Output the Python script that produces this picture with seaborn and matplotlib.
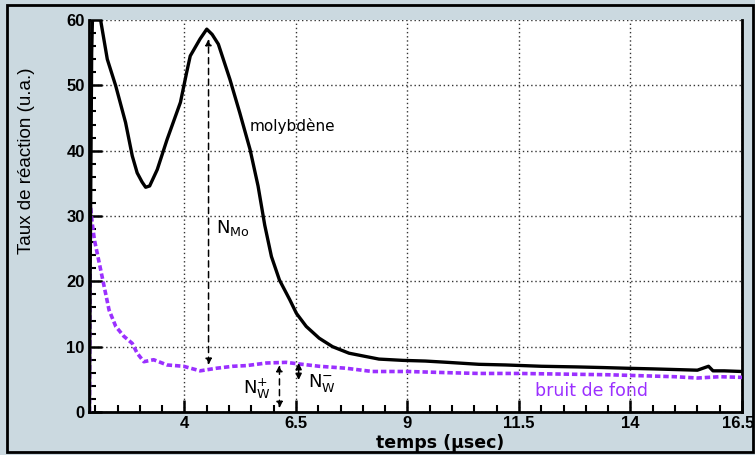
import numpy as np
import pandas as pd
import matplotlib
matplotlib.use("Agg")
import matplotlib.pyplot as plt
import matplotlib.transforms as mtransforms
from matplotlib.patches import Rectangle
import seaborn as sns

# Data

# molybdene signal (black)
mo_t = [1.87, 1.89, 1.92, 1.95, 2.05, 2.12, 2.27, 2.46, 2.68, 2.83, 2.94, 3.05,
        3.13, 3.22, 3.39, 3.61, 3.91, 4.05, 4.13, 4.35, 4.50, 4.62, 4.76, 5.02,
        5.24, 5.47, 5.65, 5.80, 5.95, 6.13, 6.36, 6.51, 6.73, 7.02, 7.32, 7.69,
        8.06, 8.36, 8.9, 9.4, 9.9, 10.6, 11.2, 12.0, 12.8, 13.4, 13.9, 14.5,
        15.0, 15.5, 15.75, 15.85, 16.1, 16.5]
mo_val = [0.0, 25.0, 55.0, 64.0, 65.0, 60.0, 54.0, 49.9, 44.3, 39.2, 36.6, 35.2,
          34.4, 34.6, 37.1, 41.7, 47.4, 52.0, 54.5, 57.1, 58.6, 57.8, 56.3, 50.9,
          45.8, 40.2, 34.6, 28.6, 23.8, 20.2, 17.2, 15.1, 13.1, 11.3, 10.0, 9.0,
          8.5, 8.1, 7.9, 7.8, 7.6, 7.3, 7.2, 7.0, 6.9, 6.8, 6.7, 6.6,
          6.5, 6.4, 7.0, 6.3, 6.3, 6.2]

# background noise (purple, dashed)
bg_t = [1.87, 1.89, 1.93, 1.98, 2.09, 2.20, 2.31, 2.46, 2.64, 2.83, 2.94, 3.09,
        3.31, 3.61, 3.98, 4.35, 4.72, 5.09, 5.39, 5.84, 6.28, 6.51, 7.02, 7.62,
        8.21, 9.0, 10.0, 10.6, 11.5, 12.5, 13.5, 14.0, 15.0, 15.5, 16.0, 16.5]
bg_val = [0.0, 31.5, 29.0, 26.4, 22.8, 19.2, 15.6, 13.1, 11.6, 10.5, 9.0, 7.7,
          8.0, 7.2, 7.0, 6.3, 6.7, 7.0, 7.1, 7.5, 7.6, 7.4, 7.0, 6.7,
          6.2, 6.2, 6.0, 5.9, 5.9, 5.8, 5.7, 5.6, 5.4, 5.2, 5.4, 5.3]

x_major = [4, 6.5, 9, 11.5, 14, 16.5]
x_labels = ["4", "6.5", "9", "11.5", "14", "16.5"]
y_major = [0, 10, 20, 30, 40, 50, 60]

mo_df = pd.DataFrame({"t": mo_t, "val": mo_val})
bg_df = pd.DataFrame({"t": bg_t, "val": bg_val})

sns.set_style("ticks")
plt.rcParams["font.family"] = ["DejaVu Sans"]
plt.rcParams["text.color"] = "black"
plt.rcParams["axes.labelcolor"] = "black"
plt.rcParams["xtick.color"] = "black"
plt.rcParams["ytick.color"] = "black"
plt.rcParams["axes.edgecolor"] = "black"

BG = "#cbd9e0"
PURPLE = "#9b30ff"

fig = plt.figure(figsize=(7.55, 4.55), dpi=100, facecolor=BG)
ax = fig.add_axes([89 / 755, 43 / 455, 653 / 755, 392 / 455])
ax.set_facecolor("white")

# outer frame
fig.patches.append(Rectangle((7 / 755, 3 / 455), 746 / 755, 447 / 455,
                             transform=fig.transFigure, fill=False,
                             edgecolor="black", linewidth=2))

sns.lineplot(data=bg_df, x="t", y="val", ax=ax, color=PURPLE, linewidth=2.6,
             linestyle=(0, (1.5, 0.8)), sort=False, zorder=3)
sns.lineplot(data=mo_df, x="t", y="val", ax=ax, color="black", linewidth=2.4,
             sort=False, zorder=4)

ax.set_xlim(1.86, 16.5)
ax.set_ylim(0, 60)
ax.set_xticks(x_major)
ax.set_xticklabels(x_labels)
ax.set_xticks(np.arange(2.0, 16.5, 0.5), minor=True)
ax.set_yticks(y_major)
ax.set_yticks(np.arange(0, 61, 2), minor=True)
ax.tick_params(which="major", direction="in", length=9, width=1.8,
               labelsize=12, pad=3)
ax.tick_params(which="minor", direction="in", length=5, width=1.5)
ax.tick_params(axis="x", which="major", pad=3)
for lab in ax.get_xticklabels() + ax.get_yticklabels():
    lab.set_fontweight("bold")
    lab.set_family(["Liberation Sans", "DejaVu Sans"])
# last x label sits against the frame edge
last = ax.get_xticklabels()[-1]
last.set_transform(last.get_transform() +
                   mtransforms.ScaledTranslation(-4 / 100, 0, fig.dpi_scale_trans))

ax.grid(True, which="major", color="#333333", linestyle=(0, (1, 2)),
        linewidth=1)
ax.spines["top"].set_visible(False)
for s in ["left", "bottom", "right"]:
    ax.spines[s].set_linewidth(2)

ax.set_xlabel("")
ax.set_ylabel("")
fig.text(440 / 755, 1 - 443 / 455, "temps (\u00b5sec)", ha="center",
         va="center", fontsize=12.5, fontweight="bold")
fig.text(27 / 755, 1 - 161 / 455, "Taux de r\u00e9action (u.a.)",
         rotation=90, ha="center", va="center", fontsize=13.5,
         family=["Liberation Sans", "DejaVu Sans"])

# annotations
ax.text(5.47, 43.7, "molybd\u00e8ne", fontsize=11, va="center", ha="left")
ax.text(11.86, 3.2, "bruit de fond", fontsize=12.5, va="center", ha="left",
        color=PURPLE)
ax.text(4.70, 28.2, r"N$_{\mathregular{Mo}}$", fontsize=13, va="center",
        ha="left")
ax.text(5.31, 3.5, r"N$_{\mathregular{W}}^{\mathregular{+}}$", fontsize=13,
        va="center", ha="left")
ax.text(6.76, 4.4, r"N$_{\mathregular{W}}^{\mathregular{-}}$", fontsize=13,
        va="center", ha="left")

dash_arrow = dict(arrowstyle="<|-|>", color="black", lw=1.1,
                  linestyle=(0, (4, 3)), mutation_scale=9,
                  shrinkA=0, shrinkB=0)
ax.annotate("", xy=(4.54, 57.1), xytext=(4.54, 7.2), arrowprops=dash_arrow)
ax.annotate("", xy=(6.13, 7.2), xytext=(6.13, 0.6), arrowprops=dash_arrow)
ax.annotate("", xy=(6.56, 7.5), xytext=(6.56, 4.9),
            arrowprops=dict(arrowstyle="<|-|>", color="black", lw=1.1,
                            mutation_scale=9, shrinkA=0, shrinkB=0))

fig.savefig("out.png", dpi=100, facecolor=BG)
